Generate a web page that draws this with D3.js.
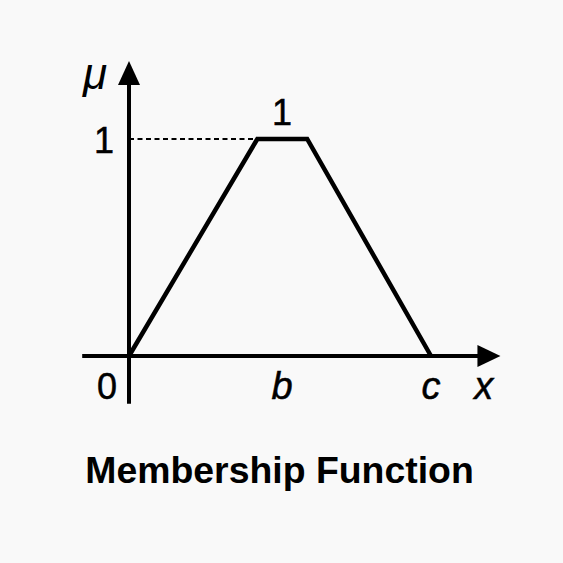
<!DOCTYPE html>
<html><head><meta charset="utf-8">
<script src="https://cdn.jsdelivr.net/npm/d3@7"></script>
<style>html,body{margin:0;padding:0;background:#f9f9f9;}svg{display:block;}</style>
</head><body>
<svg id="c" width="563" height="563"></svg>
<script>
// Membership function (trapezoid) data
const xPoints = [0, 4.25, 5.9, 10];
const muPoints = [0, 1, 1, 0];
const xAxisExtent = [-1.55, 12.3];
const yAxisExtent = [-0.22, 1.36];
const xTickLabels = [{v: 0, t: "0", italic: false}, {v: 5.07, t: "b", italic: true}, {v: 10, t: "c", italic: true}, {v: 11.75, t: "x", italic: true}];
const peakLabel = "1";
const yLabel = "\u03bc";
const title = "Membership Function";

const svg = d3.select("#c");
const x = d3.scaleLinear().domain([0, 10]).range([129, 431]);
const y = d3.scaleLinear().domain([0, 1]).range([356, 139]);
const font = "'Liberation Sans', Arial, sans-serif";

// dashed guide
svg.append("line").attr("x1", x(0)).attr("x2", x(xPoints[1])).attr("y1", y(1)).attr("y2", y(1))
  .attr("stroke", "#000").attr("stroke-width", 2).attr("stroke-dasharray", "5,3.5");

// axes
svg.append("line").attr("x1", x(xAxisExtent[0])).attr("x2", x(xAxisExtent[1]) - 12)
  .attr("y1", y(0)).attr("y2", y(0)).attr("stroke", "#000").attr("stroke-width", 4);
svg.append("line").attr("x1", x(0)).attr("x2", x(0))
  .attr("y1", y(yAxisExtent[0])).attr("y2", y(yAxisExtent[1]) + 12).attr("stroke", "#000").attr("stroke-width", 4);
// arrowheads
const xt = x(xAxisExtent[1]), yt = y(yAxisExtent[1]);
svg.append("path").attr("d", `M${xt},${y(0)} L${xt-23},${y(0)-11} L${xt-23},${y(0)+11} Z`).attr("fill", "#000");
svg.append("path").attr("d", `M${x(0)},${yt} L${x(0)-11},${yt+24} L${x(0)+11},${yt+24} Z`).attr("fill", "#000");

// trapezoid
const line = d3.line().x((d, i) => x(xPoints[i])).y(d => y(d));
svg.append("path").attr("d", line(muPoints)).attr("fill", "none").attr("stroke", "#000")
  .attr("stroke-width", 4.5).attr("stroke-linejoin", "miter");

// labels
svg.selectAll(".xl").data(xTickLabels).enter().append("text")
  .attr("x", d => d.v === 0 ? x(0) - 22 : x(d.v)).attr("y", 399)
  .attr("text-anchor", "middle").attr("font-family", font)
  .attr("font-size", d => d.italic ? 38 : 36)
  .attr("stroke", "#000").attr("stroke-width", 0.5)
  .attr("font-style", d => d.italic ? "italic" : "normal").text(d => d.t);
svg.append("text").attr("x", 104).attr("y", y(1) + 14).attr("text-anchor", "middle")
  .attr("font-family", font).attr("font-size", 36).attr("stroke", "#000").attr("stroke-width", 0.5).text(peakLabel);
svg.append("text").attr("x", x(5.07)).attr("y", 125).attr("text-anchor", "middle")
  .attr("font-family", font).attr("font-size", 36).attr("stroke", "#000").attr("stroke-width", 0.5).text(peakLabel);
svg.append("text").attr("x", 95).attr("y", 89).attr("text-anchor", "middle")
  .attr("font-family", font).attr("font-size", 44).attr("font-style", "italic").text(yLabel);
svg.append("text").attr("x", 279.5).attr("y", 483).attr("text-anchor", "middle")
  .attr("font-family", font).attr("font-size", 37.4).attr("font-weight", "bold").text(title);
</script>
</body></html>
